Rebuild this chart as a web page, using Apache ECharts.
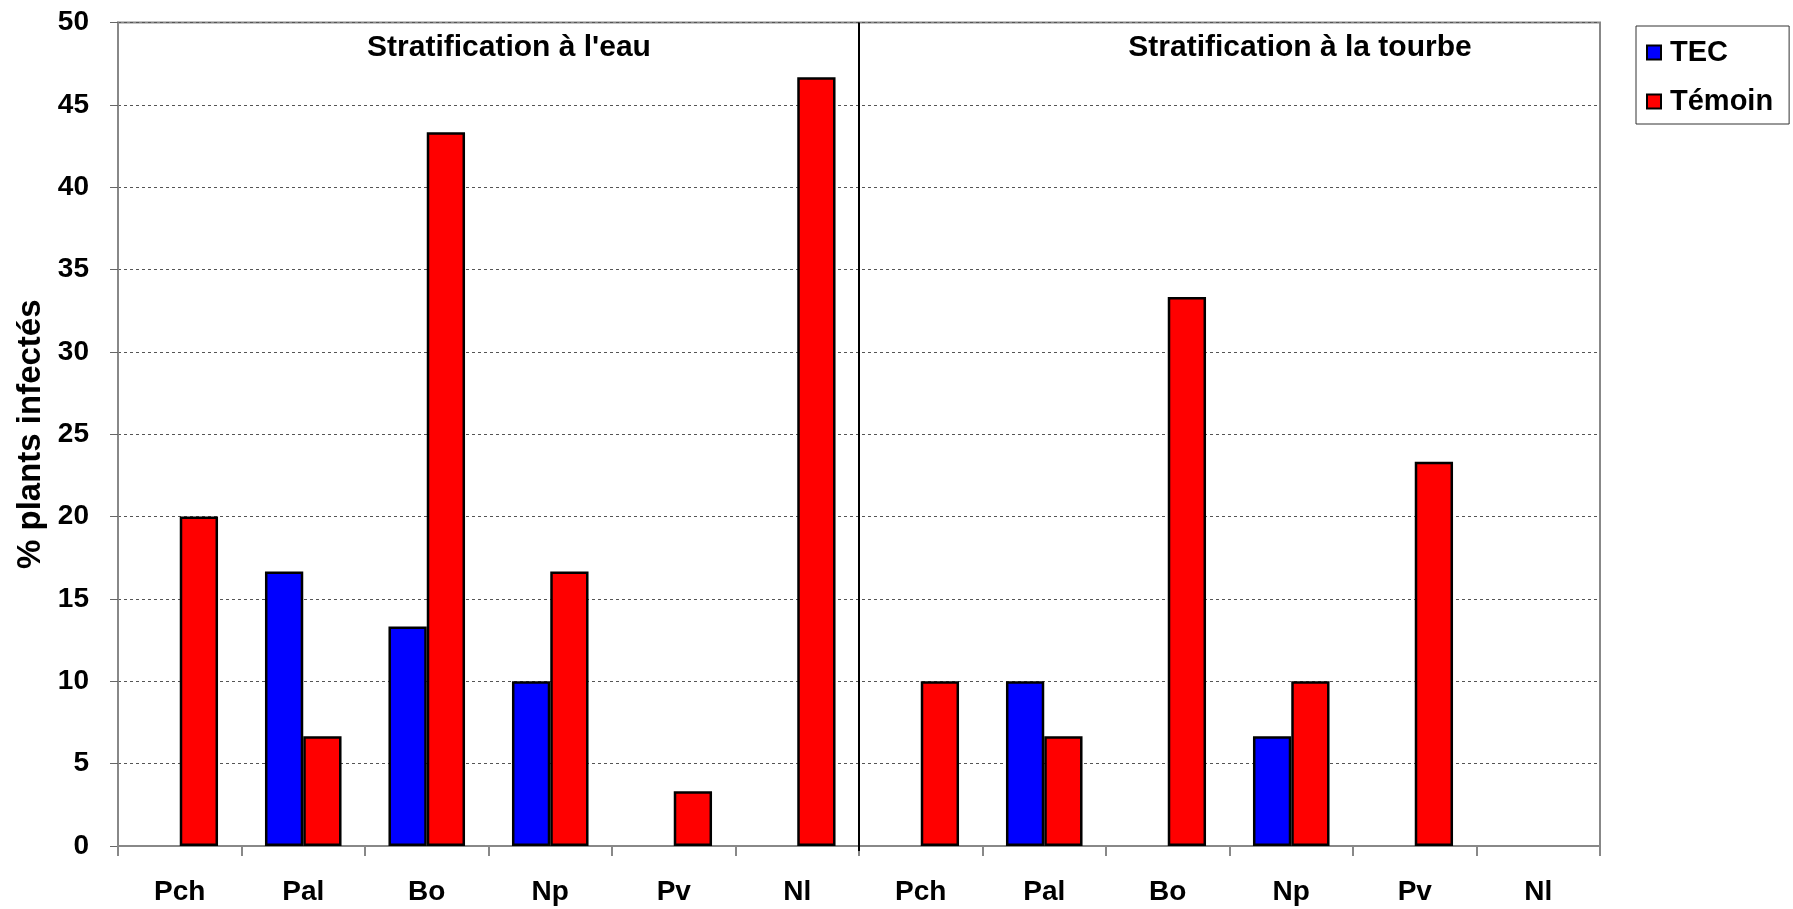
<!DOCTYPE html>
<html>
<head>
<meta charset="utf-8">
<script src="https://cdn.jsdelivr.net/npm/echarts@6/dist/echarts.min.js"></script>
<style>
html,body{margin:0;padding:0;background:#fff;}
#chart{width:1793px;height:909px;}
</style>
</head>
<body>
<div id="chart"></div>
<script>
var categories = ['Pch','Pal','Bo','Np','Pv','Nl','Pch','Pal','Bo','Np','Pv','Nl'];
var tecValues = [0, 16.67, 13.33, 10, 0, 0, 0, 10, 0, 6.67, 0, 0];
var temoinValues = [20, 6.67, 43.33, 16.67, 3.33, 46.67, 10, 6.67, 33.33, 10, 23.33, 0];
var seriesNames = ['TEC', 'Témoin'];
var groupTitles = ["Stratification à l'eau", 'Stratification à la tourbe'];
var yAxisName = '% plants infectés';

var FONT = '"Liberation Sans", Arial, sans-serif';
var G = {left:118, top:22.5, right:193, bottom:63};
var W = 1793, H = 909;
var plotW = W - G.left - G.right;
var dividerX = G.left + plotW * 6 / categories.length;

function toData(arr){
  return arr.map(function(v){
    return v === 0 ? {value: v, itemStyle: {borderWidth: 0}} : v;
  });
}

var chart = echarts.init(document.getElementById('chart'), null, {renderer:'canvas'});
chart.setOption({
  backgroundColor:'#fff',
  animation:false,
  grid:{left:G.left, top:G.top, right:G.right, bottom:G.bottom, show:true, borderColor:'#888', borderWidth:2, containLabel:false},
  legend:{
    orient:'vertical', left:1636, top:26,
    padding:[12,16,8,10],
    icon:'rect',
    itemWidth:14, itemHeight:14, itemGap:20,
    borderColor:'#333', borderWidth:1,
    textStyle:{fontFamily:FONT, fontWeight:'bold', fontSize:29, color:'#000', padding:[0,0,0,4]},
    data: seriesNames
  },
  xAxis:{
    type:'category', data:categories,
    axisLine:{lineStyle:{color:'#888', width:2}},
    axisTick:{show:true, length:10, lineStyle:{color:'#888', width:2}},
    axisLabel:{fontFamily:FONT, fontWeight:'bold', fontSize:28, color:'#000', margin:32, interval:0}
  },
  yAxis:{
    type:'value', min:0, max:50, interval:5,
    name:yAxisName, nameLocation:'middle', nameGap:68, nameRotate:90,
    nameTextStyle:{fontFamily:FONT, fontWeight:'bold', fontSize:33, color:'#000'},
    axisLine:{show:true, lineStyle:{color:'#888', width:2}},
    axisTick:{show:true, length:8, lineStyle:{color:'#666', width:1}},
    axisLabel:{fontFamily:FONT, fontWeight:'bold', fontSize:28, color:'#000', margin:29},
    splitLine:{show:true, lineStyle:{color:'#555', width:1, type:[3,3]}}
  },
  series:[
    {name:seriesNames[0], type:'bar', data:toData(tecValues), barGap:'0%', barCategoryGap:'38%',
     itemStyle:{color:'#0000ff', borderColor:'#000', borderWidth:2.5}},
    {name:seriesNames[1], type:'bar', data:toData(temoinValues), barGap:'0%', barCategoryGap:'38%',
     itemStyle:{color:'#ff0000', borderColor:'#000', borderWidth:2.5}}
  ],
  graphic:[
    {type:'line', shape:{x1:dividerX, y1:G.top, x2:dividerX, y2:H-G.bottom+5}, style:{stroke:'#000', lineWidth:2}, z:100},
    {type:'text', x:509, y:48, style:{text:groupTitles[0], fill:'#000', font:'bold 30px "Liberation Sans", Arial, sans-serif', textAlign:'center', textVerticalAlign:'middle'}},
    {type:'text', x:1300, y:48, style:{text:groupTitles[1], fill:'#000', font:'bold 30px "Liberation Sans", Arial, sans-serif', textAlign:'center', textVerticalAlign:'middle'}}
  ]
});
</script>
</body>
</html>
